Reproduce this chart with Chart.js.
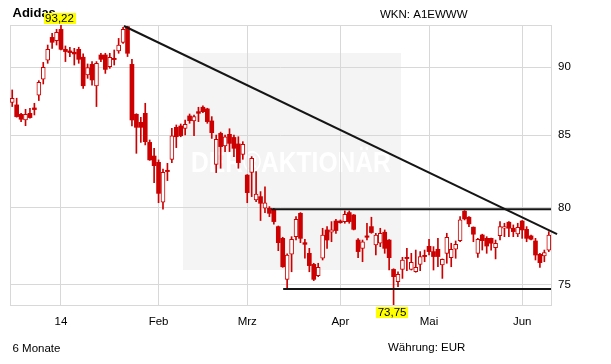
<!DOCTYPE html>
<html><head><meta charset="utf-8">
<script src="https://cdn.jsdelivr.net/npm/chart.js@4/dist/chart.umd.min.js"></script>
<style>html,body{margin:0;padding:0;background:#fff;}canvas{display:block;}</style>
</head><body>
<canvas id="c" width="611" height="364"></canvas>
<script>
// ---- data ----
const dates = [
 '11.12.13','12.12.13','13.12.13','16.12.13','17.12.13','18.12.13','19.12.13','20.12.13','23.12.13','27.12.13','30.12.13',
 '02.01.14','03.01.14','06.01.14','07.01.14','08.01.14','09.01.14','10.01.14','13.01.14','14.01.14','15.01.14','16.01.14','17.01.14','20.01.14','21.01.14','22.01.14','23.01.14','24.01.14','27.01.14','28.01.14','29.01.14','30.01.14','31.01.14',
 '03.02.14','04.02.14','05.02.14','06.02.14','07.02.14','10.02.14','11.02.14','12.02.14','13.02.14','14.02.14','17.02.14','18.02.14','19.02.14','20.02.14','21.02.14','24.02.14','25.02.14','26.02.14','27.02.14','28.02.14',
 '03.03.14','04.03.14','05.03.14','06.03.14','07.03.14','10.03.14','11.03.14','12.03.14','13.03.14','14.03.14','17.03.14','18.03.14','19.03.14','20.03.14','21.03.14','24.03.14','25.03.14','26.03.14','27.03.14','28.03.14','31.03.14',
 '01.04.14','02.04.14','03.04.14','04.04.14','07.04.14','08.04.14','09.04.14','10.04.14','11.04.14','14.04.14','15.04.14','16.04.14','17.04.14','22.04.14','23.04.14','24.04.14','25.04.14','28.04.14','29.04.14','30.04.14',
 '02.05.14','05.05.14','06.05.14','07.05.14','08.05.14','09.05.14','12.05.14','13.05.14','14.05.14','15.05.14','16.05.14','19.05.14','20.05.14','21.05.14','22.05.14','23.05.14','26.05.14','27.05.14','28.05.14','29.05.14','30.05.14',
 '02.06.14','03.06.14','04.06.14','05.06.14','06.06.14','09.06.14','10.06.14'
];
const opens = [
 87.38,87.19,86.51,86.10,86.58,86.97,87.90,89.08,90.51,92.26,
 92.01,92.88,91.34,91.22,91.12,91.34,90.74,89.40,90.20,88.58,
 90.91,90.91,90.02,90.66,91.22,91.88,93.09,90.20,86.51,85.93,
 86.58,84.50,83.54,83.10,80.37,82.55,83.31,85.57,85.67,85.50,
 86.39,86.03,86.70,87.02,86.90,86.03,82.96,85.14,84.25,85.07,
 84.85,84.39,83.66,82.22,82.41,80.52,80.75,79.97,79.97,79.90,
 78.75,77.98,75.35,76.95,78.09,79.63,77.70,77.01,76.30,75.58,
 76.69,78.53,78.38,79.12,79.12,79.08,79.68,79.52,77.87,77.33,
 78.14,78.75,77.55,77.66,78.38,77.87,75.98,75.20,75.98,76.75,
 75.98,75.83,76.30,76.88,77.46,77.12,77.27,76.26,77.01,76.73,
 77.27,77.83,79.77,79.37,78.71,77.01,78.20,77.98,77.98,77.38,
 78.16,78.64,79.04,78.64,78.27,79.12,78.57,78.14,77.81,76.95,
 76.84,77.22
];
const highs = [
 88.29,87.68,86.58,86.87,86.95,87.31,88.98,90.35,91.67,92.57,
 92.88,93.22,91.60,91.50,91.42,91.50,90.99,90.23,90.41,90.41,
 91.04,91.04,91.04,91.29,92.18,93.04,93.12,90.58,86.55,86.29,
 87.31,84.67,84.08,83.27,82.64,83.03,85.50,85.74,85.81,86.10,
 86.53,86.46,87.02,87.12,86.95,86.34,85.02,85.23,85.02,85.47,
 85.02,84.90,84.55,82.25,83.50,82.46,81.09,81.42,80.08,79.97,
 78.79,78.05,76.97,78.09,79.41,79.68,77.92,77.33,76.37,76.37,
 78.64,78.75,79.08,79.23,79.19,79.79,79.79,79.55,77.96,77.87,
 78.97,79.37,78.31,78.64,78.53,77.90,76.02,75.83,76.75,77.33,
 77.01,77.22,77.12,77.22,77.92,77.44,77.98,76.65,78.31,77.66,
 77.81,79.41,79.81,79.41,78.73,77.98,78.25,78.09,78.00,77.87,
 79.08,78.97,79.08,78.86,78.97,79.15,78.75,78.20,77.98,77.01,
 77.22,78.42
];
const lows = [
 87.07,86.30,85.98,85.69,86.22,86.46,87.51,88.73,90.28,91.42,
 91.67,91.30,90.41,90.79,90.15,90.28,88.41,89.15,88.65,87.07,
 90.41,89.52,89.90,90.15,91.04,91.80,90.79,85.67,83.73,84.50,
 84.32,83.24,81.70,80.34,79.90,81.84,83.08,84.13,84.90,85.02,
 85.86,84.97,85.98,86.63,85.86,84.78,82.39,82.69,83.85,83.85,
 83.50,82.69,83.31,80.34,80.75,80.41,79.15,79.68,79.41,78.91,
 77.18,76.11,74.72,75.83,77.87,77.70,76.69,75.83,75.27,75.52,
 76.58,77.33,77.76,78.31,78.97,78.97,78.97,78.53,76.73,76.47,
 77.87,78.31,76.90,77.44,77.01,75.94,73.75,74.89,75.41,75.90,
 75.94,75.80,75.90,76.47,76.90,75.94,76.15,75.41,76.37,76.15,
 76.69,77.76,79.19,78.75,77.76,76.75,77.22,77.01,77.22,76.65,
 77.87,78.09,78.09,78.09,78.09,77.98,77.76,77.87,76.58,76.11,
 76.47,77.12
];
const closes = [
 87.68,86.34,86.15,86.51,86.27,86.85,88.85,89.97,91.34,91.88,
 92.65,91.34,91.17,91.09,90.99,90.58,88.60,89.95,89.03,90.28,
 90.58,89.82,90.74,90.56,91.67,92.88,91.04,86.10,85.57,85.57,
 84.55,83.27,82.87,80.97,82.41,82.46,84.97,84.90,84.97,85.79,
 86.05,86.34,86.58,86.70,85.98,85.19,84.71,84.20,84.90,84.43,
 84.08,83.08,84.36,81.02,83.38,80.93,80.30,80.34,79.63,79.08,
 77.70,76.15,76.90,77.92,79.23,77.98,77.59,76.22,75.35,76.11,
 78.20,77.87,78.53,78.49,79.01,79.57,79.08,78.57,77.12,77.76,
 78.05,78.36,78.20,78.31,77.33,76.73,75.52,75.66,76.58,76.67,
 76.43,76.11,76.80,76.80,77.12,76.80,76.80,76.62,78.05,77.27,
 77.59,79.19,79.26,78.93,78.25,77.92,77.83,77.48,77.66,77.66,
 78.75,78.75,78.64,78.42,78.71,78.53,77.98,77.92,76.90,76.41,
 77.05,78.20
];
const monthLabels = ['14','Feb','Mrz','Apr','Mai','Jun'];
const monthStarts = ['02.01.14','03.02.14','03.03.14','01.04.14','02.05.14','02.06.14'];
const yTicks = [75, 80, 85, 90];
// drawn trend lines (x = trading-day index, y = price)
const trendLine = [{x:25.2, y:93.14}, {x:122.87, y:78.26}];
const resistanceLine = [{x:58.4, y:79.9}, {x:121.5, y:79.9}];
const supportLine = [{x:61.1, y:74.74}, {x:121.5, y:74.74}];
const titleText = 'Adidas';
const wknText = 'WKN: A1EWWW';
const periodText = '6 Monate';
const currencyText = 'Währung: EUR';
const watermarkText = 'DER®AKTIONÄR';

// ---- drawing ----
const RED = '#cc0000';
const GRID = '#d8d8d8';
const FONT = "'Liberation Sans', Arial, sans-serif";
const up = closes.map((c, i) => c >= opens[i]);
const monthIdx = monthStarts.map(d => dates.indexOf(d));
const fmt = v => v.toFixed(2).replace('.', ',');

const decor = {
  id: 'decor',
  beforeDraw(chart) {
    const c = chart.ctx;
    c.save();
    c.fillStyle = '#fff';
    c.fillRect(0, 0, chart.width, chart.height);
    c.fillStyle = '#f4f4f4';
    c.fillRect(183, 53, 218, 217);
    c.fillStyle = '#ffffff';
    c.font = 'bold 30px ' + FONT;
    c.textBaseline = 'alphabetic';
    c.translate(191, 172);
    c.scale(0.82, 1);
    c.fillText(watermarkText, 0, 0);
    c.restore();
  },
  beforeDatasetsDraw(chart) {
    const c = chart.ctx, a = chart.chartArea;
    c.save();
    c.strokeStyle = GRID;
    c.lineWidth = 1;
    c.strokeRect(Math.round(a.left) + 0.5, Math.round(a.top) + 0.5, Math.round(a.right - a.left), Math.round(a.bottom - a.top));
    c.restore();
  },
  afterDraw(chart) {
    const c = chart.ctx;
    const xs = chart.scales.x, ys = chart.scales.y;
    c.save();
    c.fillStyle = '#000';
    c.textBaseline = 'alphabetic';
    c.textAlign = 'left';
    c.font = 'bold 13px ' + FONT;
    c.fillText(titleText, 12.5, 17);
    c.font = '11.5px ' + FONT;
    c.fillText(wknText, 380, 18.3);
    c.fillText(periodText, 12.5, 351.5);
    c.fillText(currencyText, 388, 351);

    const tag = (txt, cx, y, above) => {
      c.font = '11.5px ' + FONT;
      const w = c.measureText(txt).width + 3;
      const h = 11;
      const top = above ? y - h : y;
      c.fillStyle = '#ffff00';
      c.fillRect(Math.round(cx - w / 2), Math.round(top), Math.round(w), h);
      c.fillStyle = '#000';
      c.textAlign = 'center';
      c.textBaseline = 'middle';
      c.fillText(txt, cx, top + h / 2 + 0.5);
    };
    const hiV = Math.max(...highs), hiI = highs.indexOf(hiV);
    const loV = Math.min(...lows), loI = lows.indexOf(loV);
    tag(fmt(hiV), xs.getPixelForValue(hiI) - 1.5, ys.getPixelForValue(hiV) - 1, true);
    tag(fmt(loV), xs.getPixelForValue(loI) - 1.5, ys.getPixelForValue(loV) + 1.5, false);
    c.restore();
  }
};

const lineDs = (data, clip) => ({
  type: 'line', data, xAxisID: 'x2', borderColor: '#151515', borderWidth: 2,
  pointRadius: 0, tension: 0, clip: clip, order: 0
});

new Chart(document.getElementById('c').getContext('2d'), {
  type: 'bar',
  data: {
    labels: dates,
    datasets: [
      lineDs(trendLine, false),
      lineDs(resistanceLine, false),
      lineDs(supportLine, false),
      {
        label: 'body', data: opens.map((o, i) => [o, closes[i]]),
        backgroundColor: up.map(u => u ? '#ffffff' : RED),
        borderColor: RED, borderWidth: up.map(u => u ? 1 : 0), borderSkipped: false,
        barThickness: 4, grouped: false, minBarLength: 1, order: 1
      },
      {
        label: 'wick', data: lows.map((l, i) => [l, highs[i]]),
        backgroundColor: RED, borderWidth: 0, barThickness: 1, grouped: false, order: 2
      }
    ]
  },
  options: {
    responsive: false, animation: false, devicePixelRatio: 1,
    layout: { padding: { left: 10, top: 25, right: 0, bottom: 0 } },
    plugins: { legend: { display: false }, tooltip: { enabled: false } },
    scales: {
      x: {
        type: 'category', offset: true,
        grid: { offset: false, color: GRID, drawTicks: false },
        border: { display: false },
        ticks: {
          autoSkip: false, maxRotation: 0, minRotation: 0, padding: 10, color: '#000',
          font: { family: FONT, size: 11.5 },
          callback: (v, i) => { const k = monthIdx.indexOf(i); return k >= 0 ? monthLabels[k] : null; }
        },
        afterFit: s => { s.height = 59; }
      },
      x2: {
        type: 'linear', display: false, offset: false, bounds: 'data',
        grid: { offset: false },
        min: -0.5, max: dates.length - 0.5
      },
      y: {
        type: 'logarithmic', position: 'right',
        min: Math.min(...lows), max: Math.max(...highs),
        grid: { color: GRID, drawTicks: false },
        border: { display: false },
        ticks: { padding: 7, color: '#000', font: { family: FONT, size: 11.5 }, callback: v => String(v) },
        afterBuildTicks: s => { s.ticks = yTicks.map(v => ({ value: v })); },
        afterFit: s => { s.width = 60; }
      }
    }
  },
  plugins: [decor]
});
</script>
</body></html>
